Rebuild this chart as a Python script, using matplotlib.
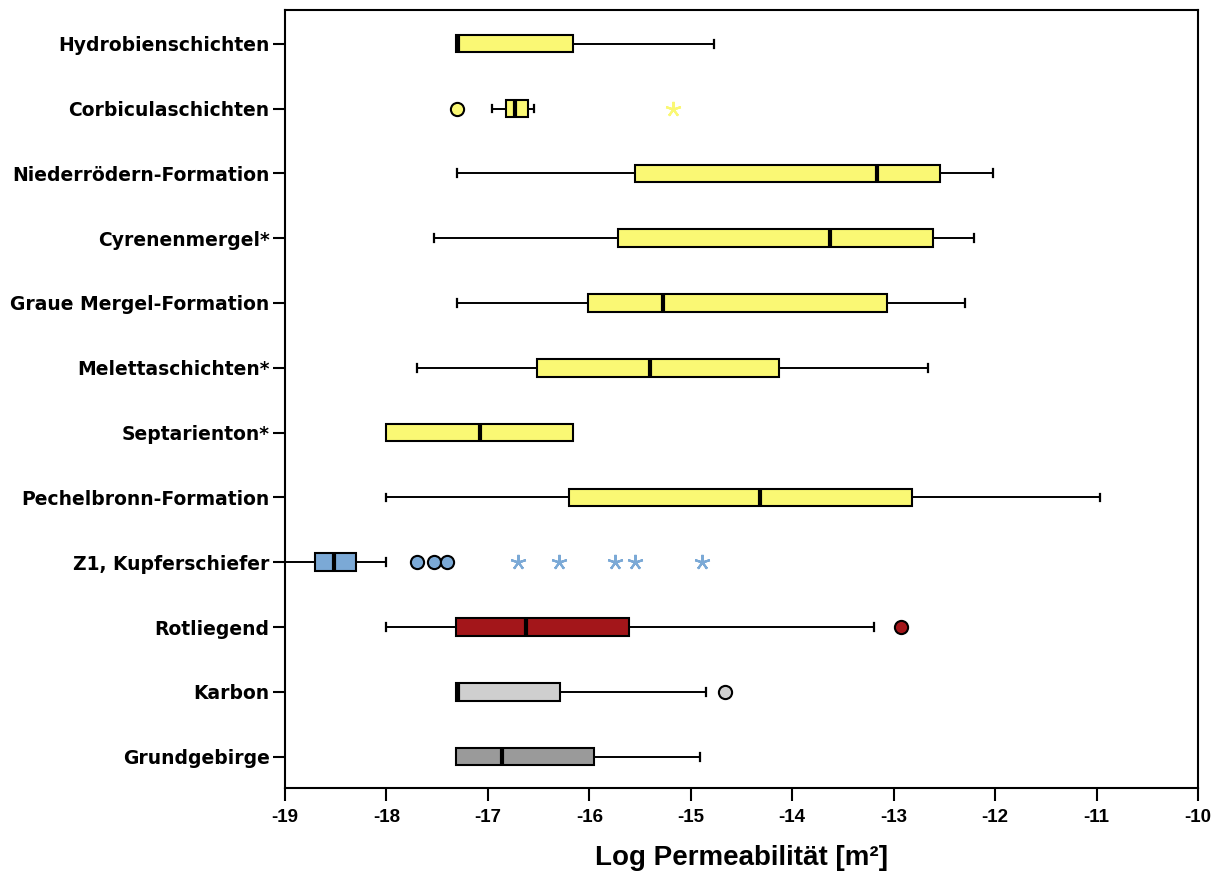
import matplotlib
matplotlib.use("Agg")
import matplotlib.pyplot as plt
import numpy as np

# ---- data (log10 permeability, m^2) ----
categories = ["Hydrobienschichten", "Corbiculaschichten", "Niederrödern-Formation",
              "Cyrenenmergel*", "Graue Mergel-Formation", "Melettaschichten*",
              "Septarienton*", "Pechelbronn-Formation", "Z1, Kupferschiefer",
              "Rotliegend", "Karbon", "Grundgebirge"]
whisker_low = [-17.31, -16.96, -17.30, -17.53, -17.30, -17.70, -18.00, -18.00, -19.05, -18.00, -17.31, -17.31]
q1          = [-17.31, -16.82, -15.55, -15.72, -16.01, -16.52, -18.00, -16.20, -18.70, -17.31, -17.31, -17.31]
median      = [-17.29, -16.73, -13.16, -13.63, -15.27, -15.40, -17.08, -14.32, -18.52, -16.62, -17.29, -16.86]
q3          = [-16.16, -16.60, -12.54, -12.61, -13.07, -14.13, -16.16, -12.82, -18.30, -15.61, -16.29, -15.95]
whisker_high= [-14.77, -16.55, -12.02, -12.21, -12.30, -12.66, -16.16, -10.97, -18.00, -13.19, -14.85, -14.91]
outliers_circle = [[], [-17.30], [], [], [], [], [], [], [-17.70, -17.53, -17.40], [-12.93], [-14.66], []]
outliers_star   = [[], [-15.18], [], [], [], [], [], [], [-16.70, -16.30, -15.75, -15.55, -14.89], [], [], []]
box_colors = ["#FAF874"] * 8 + ["#7BA9D6", "#A3161A", "#CFCFCF", "#9A9A9A"]
xticks = [-19, -18, -17, -16, -15, -14, -13, -12, -11, -10]

# ---- figure ----
fig = plt.figure(figsize=(12.19, 8.71), dpi=100)
ax = fig.add_axes([285/1219, 1 - 788/871, (1198 - 285)/1219, (788 - 10)/871])

n = len(categories)
positions = [n - i for i in range(n)]
stats = []
for i in range(n):
    stats.append(dict(med=median[i], q1=q1[i], q3=q3[i],
                      whislo=whisker_low[i], whishi=whisker_high[i], fliers=[]))

bp = ax.bxp(stats, positions=positions, vert=False, widths=0.27,
            patch_artist=True, showfliers=False,
            boxprops=dict(edgecolor="black", linewidth=1.5),
            medianprops=dict(color="black", linewidth=3, solid_capstyle="butt"),
            whiskerprops=dict(color="black", linewidth=1.4),
            capprops=dict(color="black", linewidth=1.6),
            capwidths=0.12)
for patch, c in zip(bp["boxes"], box_colors):
    patch.set_facecolor(c)
    patch.set_zorder(2)

# hide caps/whiskers with zero length (no whisker drawn in reference)
for i in range(n):
    if abs(whisker_low[i] - q1[i]) < 1e-9:
        bp["caps"][2*i].set_visible(False)
        bp["whiskers"][2*i].set_visible(False)
    if abs(whisker_high[i] - q3[i]) < 1e-9:
        bp["caps"][2*i+1].set_visible(False)
        bp["whiskers"][2*i+1].set_visible(False)

for i in range(n):
    if outliers_circle[i]:
        ax.plot(outliers_circle[i], [positions[i]] * len(outliers_circle[i]), "o",
                markersize=9.5, markerfacecolor=box_colors[i], markeredgecolor="black",
                markeredgewidth=1.5, zorder=4, clip_on=False)
    if outliers_star[i]:
        ax.plot(outliers_star[i], [positions[i]] * len(outliers_star[i]),
                linestyle="none", marker=(5, 2, 0), markersize=11,
                markeredgecolor=box_colors[i], markeredgewidth=1.6, zorder=4)

ax.set_xlim(-19, -10)
ax.set_ylim(0.517, 12.52)
ax.set_xticks(xticks)
ax.set_xticklabels([str(t) for t in xticks],
                   fontdict=dict(family=["Liberation Sans Narrow", "Liberation Sans"],
                                 weight="bold", size=13.5))
ax.set_yticks(positions)
ax.set_yticklabels(categories, fontdict=dict(family=["DejaVu Sans"],
                                             weight="bold", size=13.5))
ax.tick_params(axis="both", direction="out", length=9, width=1.5, color="black")
ax.tick_params(axis="y", pad=2)
ax.tick_params(axis="x", pad=6)
for s in ax.spines.values():
    s.set_linewidth(1.5)
    s.set_color("black")

ax.set_xlabel("Log Permeabilität [m²]",
              fontdict=dict(family=["Liberation Sans Narrow", "Liberation Sans"],
                            weight="bold", size=20), labelpad=14)

fig.savefig("out.png", dpi=100)
